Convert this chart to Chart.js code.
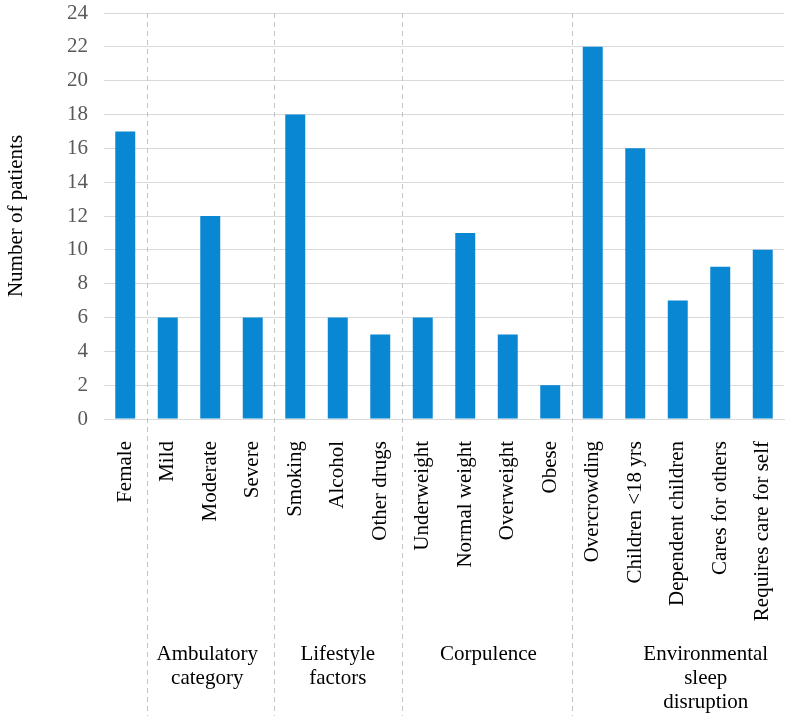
<!DOCTYPE html>
<html>
<head>
<meta charset="utf-8">
<script src="https://cdn.jsdelivr.net/npm/chart.js@4.4.0/dist/chart.umd.min.js"></script>
<style>
  html, body { margin: 0; padding: 0; background: #fff; }
  canvas { display: block; }
</style>
</head>
<body>
<canvas id="grafico" width="790" height="720"></canvas>
<script>
const categories = ['Female', 'Mild', 'Moderate', 'Severe', 'Smoking', 'Alcohol', 'Other drugs',
  'Underweight', 'Normal weight', 'Overweight', 'Obese', 'Overcrowding', 'Children <18 yrs',
  'Dependent children', 'Cares for others', 'Requires care for self'];
const patients = [17, 6, 12, 6, 18, 6, 5, 6, 11, 5, 2, 22, 16, 7, 9, 10];

// grupos de categorias (índice inicial e final)
const groupNames = [[], ['Ambulatory', 'category'], ['Lifestyle', 'factors'], ['Corpulence'], ['Environmental', 'sleep', 'disruption']];
const groupStart = [0, 1, 4, 7, 11];
const groupEnd = [0, 3, 6, 10, 15];
const groupShift = [0, -3, 0, 2, 28];

const yMin = 0, yMax = 24, yStep = 2;

const serif = "'Liberation Serif'";

// Desenha separadores tracejados e rótulos dos grupos
const gruposPlugin = {
  id: 'grupos',
  afterDraw(chart) {
    const { ctx, chartArea, scales: { x } } = chart;
    const half = (x.getPixelForValue(1) - x.getPixelForValue(0)) / 2;
    ctx.save();
    ctx.strokeStyle = '#c4c4c4';
    ctx.lineWidth = 1;
    ctx.setLineDash([5, 4]);
    groupStart.forEach(s => {
      if (s === 0) return;
      const px = Math.round(x.getPixelForValue(s) - half) + 0.5;
      ctx.beginPath();
      ctx.moveTo(px, chartArea.top);
      ctx.lineTo(px, 716);
      ctx.stroke();
    });
    ctx.setLineDash([]);
    ctx.fillStyle = '#000';
    ctx.font = '21px ' + serif;
    ctx.textAlign = 'center';
    ctx.textBaseline = 'alphabetic';
    groupNames.forEach((linhas, i) => {
      const cx = (x.getPixelForValue(groupStart[i]) + x.getPixelForValue(groupEnd[i])) / 2 + groupShift[i];
      linhas.forEach((t, j) => ctx.fillText(t, cx, 660 + j * 24));
    });
    ctx.restore();
  }
};

new Chart(document.getElementById('grafico').getContext('2d'), {
  type: 'bar',
  data: {
    labels: categories,
    datasets: [{
      label: 'Number of patients',
      data: patients,
      backgroundColor: '#0a87d2',
      barPercentage: 0.47,
      categoryPercentage: 1
    }]
  },
  options: {
    responsive: false,
    animation: false,
    layout: { padding: { top: 13, right: 6, left: 0, bottom: 0 } },
    plugins: { legend: { display: false }, tooltip: { enabled: false } },
    scales: {
      x: {
        grid: { display: false },
        border: { color: '#d9d9d9' },
        ticks: {
          color: '#000', font: { family: serif, size: 21 },
          minRotation: 90, maxRotation: 90, autoSkip: false, padding: 14
        },
        afterFit(scale) { scale.height = 301; scale.paddingLeft = 0; scale.paddingRight = 0; }
      },
      y: {
        min: yMin, max: yMax,
        grid: { color: '#d9d9d9', drawTicks: false },
        border: { display: false },
        ticks: { stepSize: yStep, color: '#595959', font: { family: serif, size: 21 }, padding: 16 },
        title: { display: true, text: 'Number of patients', color: '#000', font: { family: serif, size: 21 }, padding: { bottom: 20 } },
        afterFit(scale) { scale.width = 104; scale.paddingTop = 0; scale.paddingBottom = 0; }
      }
    }
  },
  plugins: [gruposPlugin]
});
</script>
</body>
</html>
